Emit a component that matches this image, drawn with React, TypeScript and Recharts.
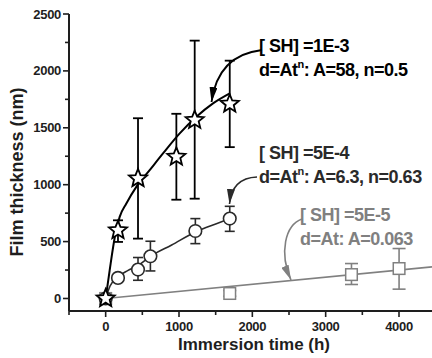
import React from 'react';
import { ComposedChart, Line, Scatter, XAxis, YAxis, ErrorBar } from 'recharts';

// [SH-] = 1E-3 (stars)
const starTime = [0, 168, 441, 964, 1214, 1692];
const starThick = [0, 599, 1055, 1245, 1568, 1710];
const starLow = [0, 497, 526, 868, 877, 1330];
const starHigh = [0, 687, 1584, 1623, 2266, 2090];

// [SH-] = 5E-4 (circles)
const circleTime = [0, 168, 441, 610, 1223, 1692];
const circleThick = [0, 181, 254, 371, 593, 702];
const circleLow = [0, 150, 160, 242, 482, 590];
const circleHigh = [0, 215, 360, 503, 702, 810];

// [SH-] = 5E-5 (squares)
const squareTime = [0, 1692, 3352, 4001];
const squareThick = [0, 44, 210, 263];
const squareLow = [0, 20, 123, 82];
const squareHigh = [0, 70, 307, 439];

// fitted curves
const fit1Time = [0, 55, 125, 191, 282, 418, 600, 782, 1010, 1237, 1464, 1692];
const fit1Thick = [0, 250, 540, 717, 835, 981, 1128, 1275, 1451, 1597, 1715, 1803];
const fit2Time = [0, 60, 168, 300, 441, 610, 900, 1223, 1500, 1692];
const fit2Thick = [0, 110, 190, 245, 290, 370, 470, 585, 655, 700];
const fit3Time = [0, 4450];
const fit3Thick = [0, 278];

const xTicks = [-500, 0, 500, 1000, 1500, 2000, 2500, 3000, 3500, 4000];
const xLabels = [0, 1000, 2000, 3000, 4000];
const yTicks = [0, 250, 500, 750, 1000, 1250, 1500, 1750, 2000, 2250, 2500];
const yLabels = [0, 500, 1000, 1500, 2000, 2500];

const X_DOMAIN: [number, number] = [-500, 4450];
const Y_DOMAIN: [number, number] = [-110, 2500];

const FONT = '"Liberation Sans", Arial, sans-serif';
const AXIS = '#1e1e1e';

const withErr = (t: number[], v: number[], lo: number[], hi: number[]) =>
  t.map((x, i) => ({ t: x, v: v[i], err: [v[i] - lo[i], hi[i] - v[i]] }));
const line = (t: number[], v: number[]) => t.map((x, i) => ({ t: x, v: v[i] }));

const starData = withErr(starTime, starThick, starLow, starHigh);
const circleData = withErr(circleTime, circleThick, circleLow, circleHigh);
const squareData = withErr(squareTime, squareThick, squareLow, squareHigh);

const NoShape = () => <g />;

function StarShape(props: any) {
  const { cx, cy } = props;
  if (cx == null || cy == null) return null;
  const pts: string[] = [];
  for (let i = 0; i < 10; i++) {
    const r = i % 2 === 0 ? 9.5 : 4.2;
    const a = -Math.PI / 2 + (i * Math.PI) / 5;
    pts.push(`${cx + r * Math.cos(a)},${cy + r * Math.sin(a)}`);
  }
  return <polygon points={pts.join(' ')} fill="#fff" stroke="#000" strokeWidth={1.8} strokeLinejoin="miter" />;
}

function CircleShape(props: any) {
  const { cx, cy } = props;
  if (cx == null || cy == null) return null;
  return <circle cx={cx} cy={cy} r={6.3} fill="#fff" stroke="#2a2a2a" strokeWidth={1.6} />;
}

function SquareShape(props: any) {
  const { cx, cy } = props;
  if (cx == null || cy == null) return null;
  return <rect x={cx - 5.8} y={cy - 5.8} width={11.6} height={11.6} fill="#fff" stroke="#808080" strokeWidth={1.5} />;
}

function BottomTick(props: any) {
  const { x, y, payload } = props;
  const major = xLabels.includes(payload.value);
  return (
    <g>
      <line x1={x} x2={x} y1={y} y2={y + (major ? 6 : 4)} stroke={AXIS} strokeWidth={1.6} />
      {major && (
        <text x={x} y={y + 20} textAnchor="middle" fontSize={13} fontWeight="bold" fill={AXIS} fontFamily={FONT} letterSpacing={-0.3}>
          {payload.value}
        </text>
      )}
    </g>
  );
}

function TopTick(props: any) {
  const { x, y } = props;
  return <line x1={x} x2={x} y1={y} y2={y + 3} stroke={AXIS} strokeWidth={1.4} />;
}

function LeftTick(props: any) {
  const { x, y, payload } = props;
  const major = yLabels.includes(payload.value);
  return (
    <g>
      <line x1={x} x2={x - (major ? 6 : 4)} y1={y} y2={y} stroke={AXIS} strokeWidth={1.6} />
      {major && (
        <text x={x - 8} y={y} dy="0.35em" textAnchor="end" fontSize={13} fontWeight="bold" fill={AXIS} fontFamily={FONT} letterSpacing={-0.3}>
          {payload.value}
        </text>
      )}
    </g>
  );
}

function Label({ x, y, color, head, fit, sup }: { x: number; y: number; color: string; head: string; fit: string; sup?: boolean }) {
  return (
    <g fill={color} fontFamily={FONT} fontWeight="bold" fontSize={18} letterSpacing={-0.5}>
      <text x={x} y={y}>{head}</text>
      <text x={x} y={y + 24}>
        {sup ? (
          <>
            d=At<tspan fontSize={11} dy={-8}>n</tspan>
            <tspan dy={8}>{fit}</tspan>
          </>
        ) : (
          `d=At${fit}`
        )}
      </text>
    </g>
  );
}

export default function App() {
  return (
    <div style={{ position: 'absolute', left: 0, top: 0, width: 432, height: 358, background: '#fff' }}>
      <ComposedChart width={432} height={358} margin={{ top: 14, right: 0, bottom: 0, left: 0 }}>
        <XAxis
          dataKey="t"
          type="number"
          domain={X_DOMAIN}
          ticks={xTicks}
          allowDataOverflow
          height={47}
          tickLine={false}
          tickSize={0}
          tickMargin={0}
          tick={<BottomTick />}
          axisLine={{ stroke: AXIS, strokeWidth: 2 }}
          interval={0}
        />
        <XAxis
          xAxisId="top"
          orientation="top"
          dataKey="t"
          type="number"
          domain={X_DOMAIN}
          ticks={xTicks}
          allowDataOverflow
          height={0}
          tickLine={false}
          tickSize={0}
          tickMargin={0}
          tick={<TopTick />}
          axisLine={{ stroke: AXIS, strokeWidth: 2 }}
          interval={0}
        />
        <YAxis
          type="number"
          domain={Y_DOMAIN}
          ticks={yTicks}
          allowDataOverflow
          width={69}
          tickLine={false}
          tickSize={0}
          tickMargin={0}
          tick={<LeftTick />}
          axisLine={{ stroke: AXIS, strokeWidth: 2 }}
          interval={0}
        />
        <Line data={line(fit3Time, fit3Thick)} dataKey="v" stroke="#808080" strokeWidth={1.6} dot={false} isAnimationActive={false} type="linear" />
        <Scatter data={squareData} dataKey="v" shape={<NoShape />} isAnimationActive={false}>
          <ErrorBar dataKey="err" direction="y" width={6.5} stroke="#808080" strokeWidth={1.6} />
        </Scatter>
        <Scatter data={squareData} dataKey="v" shape={<SquareShape />} isAnimationActive={false} />
        <Scatter data={circleData} dataKey="v" shape={<NoShape />} isAnimationActive={false}>
          <ErrorBar dataKey="err" direction="y" width={5} stroke="#2a2a2a" strokeWidth={1.6} />
        </Scatter>
        <Scatter data={circleData} dataKey="v" shape={<CircleShape />} isAnimationActive={false} />
        <Line data={line(fit2Time, fit2Thick)} dataKey="v" stroke="#2a2a2a" strokeWidth={1.6} dot={false} isAnimationActive={false} type="monotone" />
        <Line data={line(fit1Time, fit1Thick)} dataKey="v" stroke="#000" strokeWidth={2} dot={false} isAnimationActive={false} type="monotone" />
        <Scatter data={starData} dataKey="v" shape={<NoShape />} isAnimationActive={false}>
          <ErrorBar dataKey="err" direction="y" width={5} stroke="#000" strokeWidth={1.8} />
        </Scatter>
        <Scatter data={starData} dataKey="v" shape={<StarShape />} isAnimationActive={false} />
      </ComposedChart>

      <svg width={432} height={358} style={{ position: 'absolute', left: 0, top: 0, pointerEvents: 'none' }}>
        <defs>
          {[['k', '#000'], ['d', '#2a2a2a'], ['g', '#808080']].map(([id, c]) => (
            <marker key={id} id={`head-${id}`} markerUnits="userSpaceOnUse" markerWidth={15} markerHeight={8} refX={15} refY={4} orient="auto">
              <path d="M0,0 L15,4 L0,8 z" fill={c} />
            </marker>
          ))}
        </defs>
        <path d="M 262 50 Q 218 55 211.5 102" fill="none" stroke="#000" strokeWidth={1.8} markerEnd="url(#head-k)" />
        <path d="M 257 177 Q 232 178 229.5 204" fill="none" stroke="#2a2a2a" strokeWidth={1.6} markerEnd="url(#head-d)" />
        <path d="M 302 219 C 285 225, 279 253, 291 280" fill="none" stroke="#808080" strokeWidth={1.6} markerEnd="url(#head-g)" />

        <Label x={259} y={52} color="#000" head="[ SH] =1E-3" fit=": A=58, n=0.5" sup />
        <Label x={259} y={159} color="#2a2a2a" head="[ SH] =5E-4" fit=": A=6.3, n=0.63" sup />
        <Label x={300} y={221} color="#808080" head="[ SH] =5E-5" fit=": A=0.063" />

        <text
          x={17}
          y={172}
          transform="rotate(-90 17 172)"
          textAnchor="middle"
          dominantBaseline="central"
          fontFamily={FONT}
          fontWeight="bold"
          fontSize={18}
          fill={AXIS}
        >
          Film thickness (nm)
        </text>
        <text x={254} y={350} textAnchor="middle" fontFamily={FONT} fontWeight="bold" fontSize={17} fill={AXIS}>
          Immersion time (h)
        </text>
      </svg>
    </div>
  );
}
